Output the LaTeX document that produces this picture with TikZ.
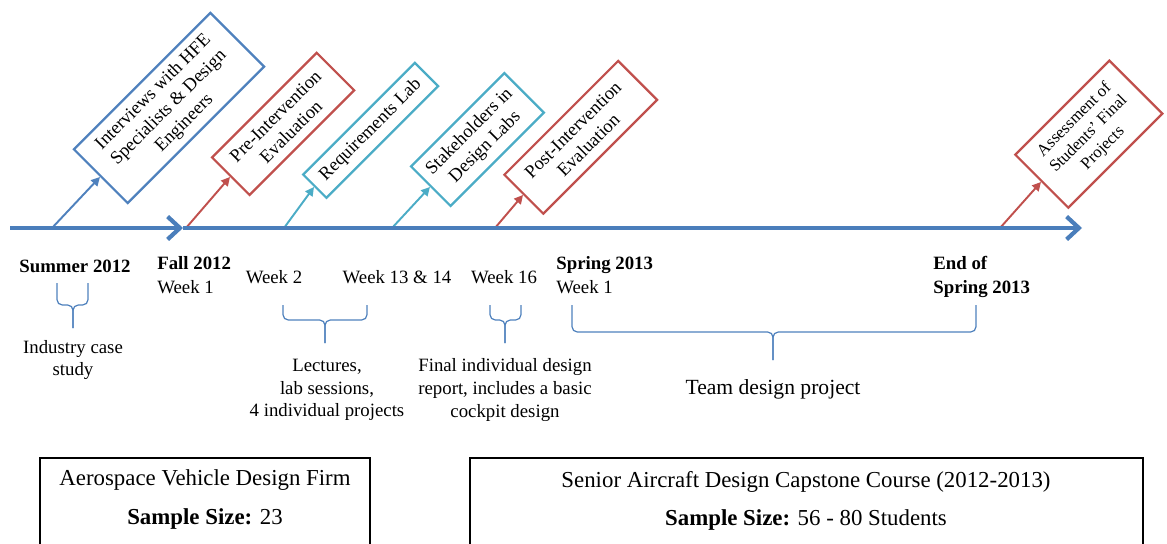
\documentclass[tikz,border=0pt]{standalone}
\usepackage{fontspec}
\setmainfont{Liberation Serif}
\usetikzlibrary{arrows.meta,positioning}

\definecolor{axisblue}{RGB}{74,126,187}
\definecolor{boxblue}{RGB}{79,129,189}
\definecolor{boxred}{RGB}{192,80,77}
\definecolor{boxcyan}{RGB}{75,172,198}

\tikzset{
  axisline/.style={draw=axisblue, line width=2.4pt, -{Straight Barb[length=7pt,width=13pt]}},
  link/.style={draw=#1, line width=1.1pt, -{Triangle[length=5pt,width=5pt]}},
  eventbox/.style={draw=#1, line width=1.3pt, rotate=45, anchor=west, align=center,
    inner sep=2pt, font=\fontsize{10.5}{12.5}\selectfont},
  braceline/.style={draw=boxblue, line width=0.7pt, rounded corners=3pt},
  datelabel/.style={align=left, inner sep=0pt, font=\fontsize{10.7}{13.5}\selectfont},
  note/.style={align=center, inner sep=0pt, font=\fontsize{10.7}{13}\selectfont},
  groupbox/.style={draw=black, line width=1.3pt}
}

\begin{document}
\begin{tikzpicture}[x=0.02cm, y=-0.02cm]
  \useasboundingbox (0,0) rectangle (1167,544);

  % Puntos sobre el eje
  \coordinate (t0) at (10,228);
  \coordinate (fall) at (183,228);
  \coordinate (tend) at (1082,228);
  \coordinate (e1) at (52,228);
  \coordinate (e2) at (186,228);
  \coordinate (e3) at (284,228);
  \coordinate (e4) at (392,228);
  \coordinate (e5) at (495,228);
  \coordinate (e6) at (1000,228);

  % Cajas de actividades
  \node[eventbox=boxblue, minimum width=3.86cm, minimum height=1.52cm] (hfe) at (100,177)
    {Interviews with HFE\\Specialists \& Design\\Engineers};
  \node[eventbox=boxred, minimum width=2.96cm, minimum height=1.06cm] (pre) at (230,177)
    {Pre-Intervention\\Evaluation};
  \node[eventbox=boxcyan, minimum width=3.16cm, minimum height=0.66cm] (req) at (314,187)
    {Requirements Lab};
  \node[eventbox=boxcyan, minimum width=2.64cm, minimum height=1.12cm] (stake) at (430,187)
    {Stakeholders in\\Design Labs};
  \node[eventbox=boxred, minimum width=3.22cm, minimum height=1.1cm] (post) at (523,195)
    {Post-Intervention\\Evaluation};
  \node[eventbox=boxred, minimum width=2.66cm, minimum height=1.5cm,
    font=\fontsize{9.5}{11.5}\selectfont] (final) at (1041,182)
    {Assessment of\\Students' Final\\Projects};

  % Flechas hacia las cajas
  \draw[link=boxblue] (e1) -- (hfe.west);
  \draw[link=boxred] (e2) -- (pre.west);
  \draw[link=boxcyan] (e3) -- (req.west);
  \draw[link=boxcyan] (e4) -- (stake.west);
  \draw[link=boxred] (e5) -- (post.west);
  \draw[link=boxred] (e6) -- (final.west);

  % Eje del tiempo
  \draw[axisline] (t0) -- (fall);
  \draw[axisline] (fall) -- (tend);

  % Fechas
  \node[datelabel] (summer) at (75,266) {\textbf{Summer 2012}};
  \node[datelabel, anchor=north west] (fall12) at (157,256) {\textbf{Fall 2012}\\Week 1};
  \node[datelabel] (week2) at (274,277) {Week 2};
  \node[datelabel] (week13) at (397,277) {Week 13 \& 14};
  \node[datelabel] (week16) at (504,277) {Week 16};
  \node[datelabel, anchor=north west] (spring) at (556,256) {\textbf{Spring 2013}\\Week 1};
  \node[datelabel, anchor=north west] (endspring) at (933,256) {\textbf{End of}\\\textbf{Spring 2013}};

  % Llaves
  \draw[braceline] (57,283) -- (57,305) -- (73,305) -- (73,328);
  \draw[braceline] (88,283) -- (88,305) -- (73,305) -- (73,328);
  \draw[braceline] (283,305) -- (283,320) -- (325,320) -- (325,343);
  \draw[braceline] (367,305) -- (367,320) -- (325,320) -- (325,343);
  \draw[braceline] (490,305) -- (490,320) -- (505,320) -- (505,343);
  \draw[braceline] (521,305) -- (521,320) -- (505,320) -- (505,343);
  \draw[braceline] (572,305) -- (572,332) -- (773,332) -- (773,360);
  \draw[braceline] (976,305) -- (976,332) -- (773,332) -- (773,360);

  % Descripciones
  \node[note] (industry) at (73,360) {Industry case\\study};
  \node[note] (lectures) at (327,390) {Lectures,\\lab sessions,\\4 individual projects};
  \node[note] (report) at (505,390) {Final individual design\\report, includes a basic\\cockpit design};
  \node[note, font=\fontsize{12.3}{14}\selectfont] (team) at (773,389) {Team design project};

  % Cajas de muestra
  \draw[groupbox] (40,544) -- (40,458) -- (370,458) -- (370,544);
  \draw[groupbox] (470,544) -- (470,458) -- (1143,458) -- (1143,544);
  \node[note, font=\fontsize{13}{15}\selectfont] (firm) at (205,480) {Aerospace Vehicle Design Firm};
  \node[note, font=\fontsize{13}{15}\selectfont] (firmsize) at (205,519) {\textbf{Sample Size:} 23};
  \node[note, font=\fontsize{13}{15}\selectfont] (course) at (806,482) {Senior Aircraft Design Capstone Course (2012-2013)};
  \node[note, font=\fontsize{13}{15}\selectfont] (coursesize) at (806,520) {\textbf{Sample Size:} 56 - 80 Students};
\end{tikzpicture}
\end{document}
